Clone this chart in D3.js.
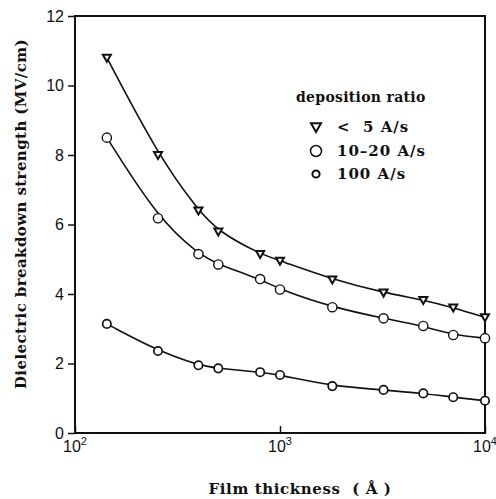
<!DOCTYPE html>
<html>
<head>
<meta charset="utf-8">
<script src="https://cdnjs.cloudflare.com/ajax/libs/d3/7.8.5/d3.min.js"></script>
<style>
  body { margin: 0; background: #fff; }
  svg { display: block; }
  .tick-lab { font-family: "Liberation Sans", Arial, sans-serif; font-size: 16px; fill: #111; }
  .lab { font-family: "DejaVu Serif", serif; font-weight: bold; fill: #111; }
</style>
</head>
<body>
<div id="chart"></div>
<script>
// film thickness (Å)
var thickness = [143, 254, 400, 500, 800, 1000, 1800, 3200, 5000, 7000, 10000];

// breakdown strength (MV/cm) per deposition ratio
var slow = [10.8, 8.0, 6.4, 5.8, 5.15, 4.96, 4.42, 4.04, 3.83, 3.61, 3.33];
var medium = [8.5, 6.18, 5.15, 4.85, 4.43, 4.13, 3.62, 3.30, 3.08, 2.82, 2.73];
var fast = [3.14, 2.36, 1.95, 1.86, 1.75, 1.67, 1.35, 1.24, 1.14, 1.03, 0.93];

var series_names = ['<  5 A/s', '10\u201320 A/s', '100 A/s'];
var y_ticks = [0, 2, 4, 6, 8, 10, 12];
var x_ticks = [100, 1000, 10000];

var width = 496, height = 499,
    margins = {top: 16, right: 11, bottom: 66, left: 75};

var svg = d3.select('#chart').append('svg')
    .attr('width', width)
    .attr('height', height);

var x = d3.scaleLog()
    .domain([100, 10000])
    .range([margins.left, width - margins.right]);

var y = d3.scaleLinear()
    .domain([0, 12])
    .range([height - margins.bottom, margins.top]);

// frame
svg.append('rect')
    .attr('x', x(100))
    .attr('y', y(12))
    .attr('width', x(10000) - x(100))
    .attr('height', y(0) - y(12))
    .attr('fill', 'none')
    .attr('stroke', '#111')
    .attr('stroke-width', 2);

// y axis
var yAxis = d3.axisLeft(y)
    .tickValues(y_ticks)
    .tickSize(7)
    .tickPadding(4)
    .tickFormat(d3.format('d'));

var gy = svg.append('g')
    .attr('transform', 'translate(' + x(100) + ',0)')
    .call(yAxis);
gy.select('.domain').remove();
gy.selectAll('line').attr('stroke', '#111').attr('stroke-width', 1.5);
gy.selectAll('text').attr('class', 'tick-lab').attr('font-size', null).attr('font-family', null);

// x axis: ticks point inward
var xAxis = d3.axisBottom(x)
    .tickValues(x_ticks)
    .tickSize(-7)
    .tickFormat('');

var gx = svg.append('g')
    .attr('transform', 'translate(0,' + y(0) + ')')
    .call(xAxis);
gx.select('.domain').remove();
gx.selectAll('line').attr('stroke', '#111').attr('stroke-width', 1.5);

x_ticks.forEach(function(t) {
    var lab = svg.append('text')
        .attr('class', 'tick-lab')
        .attr('x', x(t))
        .attr('y', y(0) + 19)
        .attr('text-anchor', 'middle');
    lab.append('tspan').text('10');
    lab.append('tspan')
        .attr('dy', -7)
        .attr('font-size', 11)
        .text(Math.round(Math.log10(t)));
});

// curves
var line = d3.line()
    .x(function(d) { return x(d[0]); })
    .y(function(d) { return y(d[1]); })
    .curve(d3.curveBasis);

[slow, medium, fast].forEach(function(vals) {
    svg.append('path')
        .datum(d3.zip(thickness, vals))
        .attr('d', line)
        .attr('fill', 'none')
        .attr('stroke', '#111')
        .attr('stroke-width', 1.6);
});

function triangle(g, cx, cy, s) {
    g.append('path')
        .attr('d', 'M' + (cx - s) + ',' + (cy - s * 0.75) + 'L' + (cx + s) + ',' + (cy - s * 0.75) +
            'L' + cx + ',' + (cy + s) + 'Z')
        .attr('fill', '#fff')
        .attr('stroke', '#111')
        .attr('stroke-width', 2);
}

function circle(g, cx, cy, r, sw) {
    g.append('circle')
        .attr('cx', cx)
        .attr('cy', cy)
        .attr('r', r)
        .attr('fill', '#fff')
        .attr('stroke', '#111')
        .attr('stroke-width', sw);
}

var marks = svg.append('g');
thickness.forEach(function(t, i) {
    triangle(marks, x(t), y(slow[i]), 4);
    circle(marks, x(t), y(medium[i]), 4.6, 1.4);
    circle(marks, x(t), y(fast[i]), 4.2, 1.7);
});

// legend
svg.append('text')
    .attr('class', 'lab')
    .attr('x', 296)
    .attr('y', 102)
    .attr('font-size', 14)
    .attr('letter-spacing', 0.3)
    .text('deposition ratio');

var leg_y = [127, 151, 174];
triangle(svg, 316, leg_y[0], 5);
circle(svg, 316, leg_y[1], 5.5, 1.5);
circle(svg, 316, leg_y[2], 3.6, 2);

series_names.forEach(function(name, i) {
    svg.append('text')
        .attr('class', 'lab')
        .attr('x', 337)
        .attr('y', leg_y[i] + 5)
        .attr('font-size', 15)
        .attr('letter-spacing', 1)
        .attr('xml:space', 'preserve')
        .text(name);
});

// axis titles
svg.append('text')
    .attr('class', 'lab')
    .attr('transform', 'translate(26,214) rotate(-90)')
    .attr('text-anchor', 'middle')
    .attr('font-size', 15)
    .attr('letter-spacing', 0.4)
    .text('Dielectric breakdown strength (MV/cm)');

svg.append('text')
    .attr('class', 'lab')
    .attr('x', 300)
    .attr('y', 494)
    .attr('text-anchor', 'middle')
    .attr('font-size', 15)
    .attr('letter-spacing', 0.6)
    .attr('xml:space', 'preserve')
    .text('Film thickness  ( \u00c5 )');
</script>
</body>
</html>
